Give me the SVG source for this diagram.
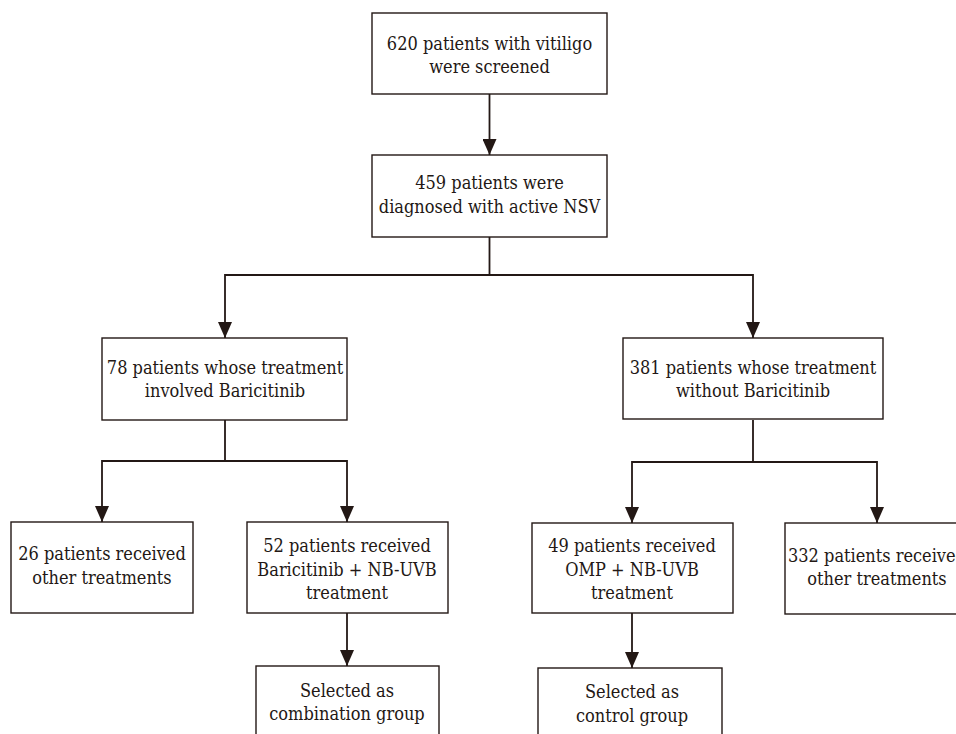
<svg xmlns="http://www.w3.org/2000/svg" width="956" height="734" viewBox="0 0 956 734">
<style>
.box{fill:#fff;stroke:#231815;stroke-width:1.4}
.t{font-family:'DejaVu Serif Condensed','DejaVu Serif',serif;font-stretch:condensed;font-size:18px;fill:#231815;text-anchor:middle}
.c{fill:none;stroke:#231815;stroke-width:1.8}
</style>
<defs>
<marker id="ah" viewBox="0 0 16 14" refX="16" refY="7" markerWidth="16" markerHeight="14" markerUnits="userSpaceOnUse" orient="auto">
<path d="M0,0 L16,7 L0,14 Z" fill="#231815"/>
</marker>
</defs>
<rect width="956" height="734" fill="#fff"/>
<g id="connectors">
<path class="c" d="M489.5,94 V155" marker-end="url(#ah)"/>
<path class="c" d="M489.5,237 V275 H225 V338" marker-end="url(#ah)"/>
<path class="c" d="M489.5,275 H753 V338" marker-end="url(#ah)"/>
<path class="c" d="M225,420 V461 H102 V522" marker-end="url(#ah)"/>
<path class="c" d="M225,461 H347 V522" marker-end="url(#ah)"/>
<path class="c" d="M753,420 V462 H632 V523" marker-end="url(#ah)"/>
<path class="c" d="M753,462 H877 V523" marker-end="url(#ah)"/>
<path class="c" d="M347,613 V666" marker-end="url(#ah)"/>
<path class="c" d="M632,613 V668" marker-end="url(#ah)"/>
</g>
<g id="n1"><rect class="box" x="372" y="13" width="235" height="81"/>
<text class="t" x="489.5" y="50">620 patients with vitiligo</text>
<text class="t" x="489.5" y="73">were screened</text></g>
<g id="n2"><rect class="box" x="372" y="155" width="235" height="82"/>
<text class="t" x="489.5" y="189">459 patients were</text>
<text class="t" x="489.5" y="213">diagnosed with active NSV</text></g>
<g id="n3"><rect class="box" x="102" y="338" width="245" height="82"/>
<text class="t" x="225" y="374">78 patients whose treatment</text>
<text class="t" x="225" y="397">involved Baricitinib</text></g>
<g id="n4"><rect class="box" x="623" y="338" width="260" height="81"/>
<text class="t" x="753" y="374">381 patients whose treatment</text>
<text class="t" x="753" y="397">without Baricitinib</text></g>
<g id="n5"><rect class="box" x="11" y="522" width="182" height="91"/>
<text class="t" x="102" y="560">26 patients received</text>
<text class="t" x="102" y="584">other treatments</text></g>
<g id="n6"><rect class="box" x="247" y="522" width="201" height="91"/>
<text class="t" x="347" y="552">52 patients received</text>
<text class="t" x="347" y="575.5">Baricitinib + NB-UVB</text>
<text class="t" x="347" y="599">treatment</text></g>
<g id="n7"><rect class="box" x="532" y="523" width="201" height="90"/>
<text class="t" x="632" y="552">49 patients received</text>
<text class="t" x="632" y="575.5">OMP + NB-UVB</text>
<text class="t" x="632" y="599">treatment</text></g>
<g id="n8"><rect class="box" x="785" y="523" width="184" height="91"/>
<text class="t" x="877" y="562">332 patients received</text>
<text class="t" x="877" y="585">other treatments</text></g>
<g id="n9"><rect class="box" x="256" y="666" width="183" height="80"/>
<text class="t" x="347" y="697">Selected as</text>
<text class="t" x="347" y="720">combination group</text></g>
<g id="n10"><rect class="box" x="538" y="668" width="184" height="80"/>
<text class="t" x="632" y="698">Selected as</text>
<text class="t" x="632" y="722">control group</text></g>
</svg>
